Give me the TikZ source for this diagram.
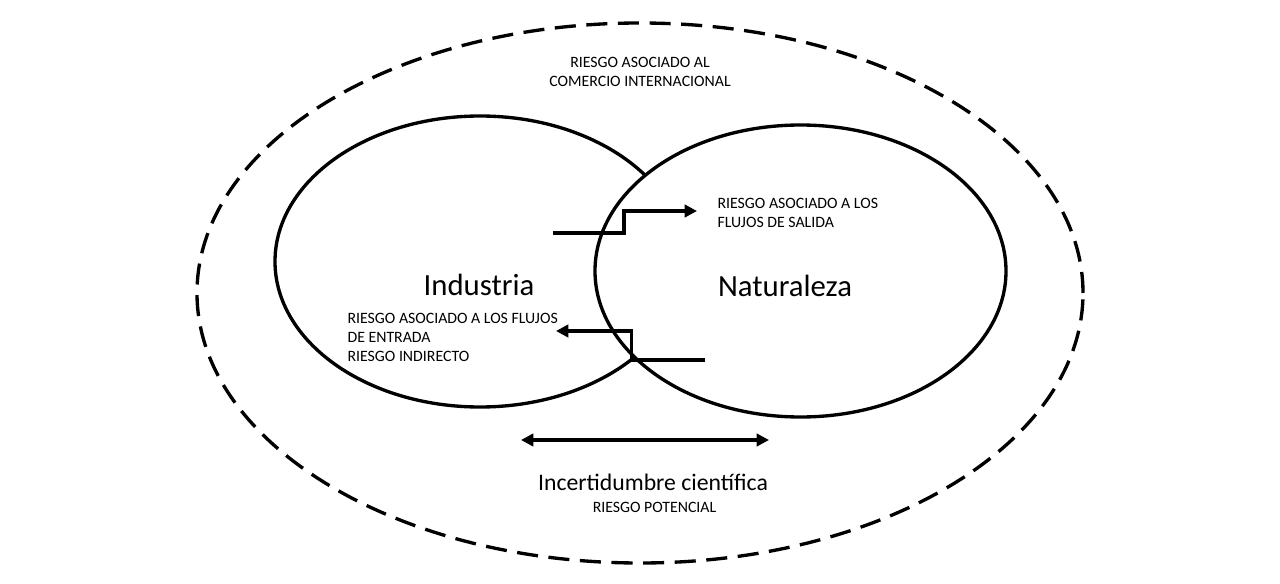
\documentclass[tikz,border=0pt]{standalone}
\usepackage{fontspec}
\setmainfont{Carlito}
\usetikzlibrary{shapes.geometric,arrows.meta}

\begin{document}
\begin{tikzpicture}[x=0.2mm, y=-0.2mm, >={Triangle[length=7pt,width=7pt]}, line width=1.8pt,
	zona/.style={draw, ellipse, inner sep=0pt, line width=1.9pt},
	riesgo/.style={font=\fontsize{9}{10.8}\selectfont, inner sep=0pt},
	titulo/.style={font=\fontsize{17.5}{21}\selectfont, inner sep=0pt}]
\useasboundingbox (0,0) rectangle (1280,584);
	\node[zona, dash pattern=on 12pt off 6pt, minimum width=17.72cm, minimum height=10.8cm] (comercio) at (640,293) {};
	\node[zona, minimum width=8.2cm, minimum height=5.82cm] (industria) at (480,261.5) {};
	\node[zona, fill=white, minimum width=8.22cm, minimum height=5.84cm] (naturaleza) at (800.5,271) {};
	\node[titulo, anchor=base] (tind) at (479,295) {Industria};
	\node[titulo, anchor=base] (tnat) at (785,296.7) {Naturaleza};
	\node[riesgo, align=center] (rcom) at (640,72) {RIESGO ASOCIADO AL\\COMERCIO INTERNACIONAL};
	\node[riesgo, align=left, anchor=west] (rsal) at (716,213) {RIESGO ASOCIADO A LOS\\FLUJOS DE SALIDA};
	\node[riesgo, align=left, anchor=west] (rent) at (346,337) {RIESGO ASOCIADO A LOS FLUJOS\\DE ENTRADA\\RIESGO INDIRECTO};
	\node[font=\fontsize{13.5}{16}\selectfont, inner sep=0pt, anchor=base] (tinc) at (653,490.7) {Incertidumbre científica};
	\node[riesgo, anchor=base] (rpot) at (654.5,512) {RIESGO POTENCIAL};
% flujos
	\coordinate (s1) at (553,233);
	\coordinate (s2) at (697,211);
	\coordinate (e1) at (705,360);
	\coordinate (e2) at (556,331);
	\coordinate (i1) at (521,440);
	\coordinate (i2) at (769,440);
	\draw[->] (s1) -- (624,233) -- (624,211) -- (s2);
	\draw[->] (e1) -- (631.5,360) -- (631.5,331) -- (e2);
	\draw[<->] (i1) -- (i2);
\end{tikzpicture}
\end{document}
